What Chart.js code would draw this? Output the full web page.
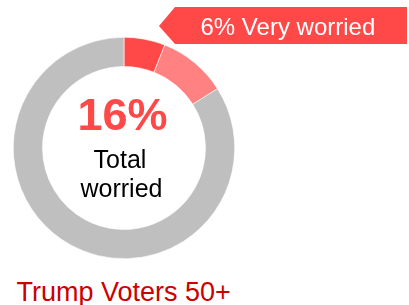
<!DOCTYPE html>
<html>
<head>
<meta charset="utf-8">
<script src="https://cdn.jsdelivr.net/npm/chart.js@4/dist/chart.umd.min.js"></script>
<style>
  html, body { margin: 0; padding: 0; background: #fff; }
  body { width: 409px; height: 305px; position: relative; overflow: hidden; font-family: "Liberation Sans", Arial, sans-serif; }
  #wrap { position: absolute; left: 13px; top: 37px; width: 222px; height: 222px; }
  .t { position: absolute; white-space: nowrap; }
  #big { left: 0; width: 245px; text-align: center; top: 92px; font-size: 45px; line-height: 45px; font-weight: bold; color: #FF4848; }
  #l1 { left: 0; width: 240px; text-align: center; top: 147px; font-size: 25px; line-height: 25px; color: #000; }
  #l2 { left: 0; width: 243px; text-align: center; top: 176px; font-size: 25px; line-height: 25px; color: #000; }
  #title { left: 16.5px; top: 279px; font-size: 27px; line-height: 27px; color: #CC0000; }
  #banner { position: absolute; left: 159px; top: 7px; width: 248px; height: 37px; background: #FF4848;
            clip-path: polygon(0 19px, 16px 0, 100% 0, 100% 100%, 16px 100%); }
  #btext { left: 200.5px; top: 14.7px; font-size: 24px; line-height: 24px; color: #fff; }
</style>
</head>
<body>
<div id="wrap"><canvas id="c" width="222" height="222"></canvas></div>
<div id="banner"></div>
<div class="t" id="btext"></div>
<div class="t" id="big"></div>
<div class="t" id="l1"></div>
<div class="t" id="l2"></div>
<div class="t" id="title"></div>
<script>
const categories = ["Very worried", "Somewhat worried", "Not worried"];
const values = [6, 10, 84];
const colors = ["#FF4848", "#FF8181", "#BFBFBF"];
const totalLabel = "16%";
const centerLines = ["Total", "worried"];
const calloutText = "6% Very worried";
const groupTitle = "Trump Voters 50+";

document.getElementById("big").textContent = totalLabel;
document.getElementById("l1").textContent = centerLines[0];
document.getElementById("l2").textContent = centerLines[1];
document.getElementById("btext").textContent = calloutText;
document.getElementById("title").textContent = groupTitle;

new Chart(document.getElementById("c"), {
  type: "doughnut",
  data: {
    labels: categories,
    datasets: [{
      data: values,
      backgroundColor: colors,
      borderColor: "#ffffff",
      borderWidth: 0.6
    }]
  },
  options: {
    responsive: false,
    animation: false,
    cutout: "73.6%",
    layout: { padding: 0 },
    plugins: { legend: { display: false }, tooltip: { enabled: false } }
  }
});
</script>
</body>
</html>
